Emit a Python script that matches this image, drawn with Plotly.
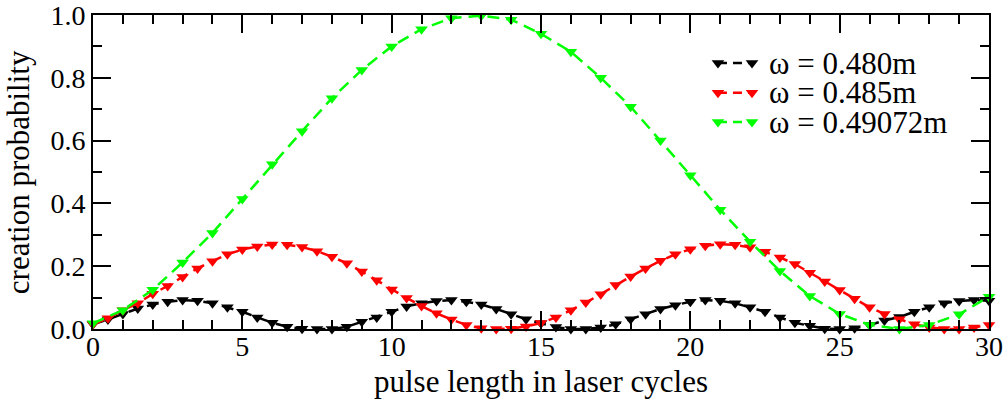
import plotly.graph_objects as go

# pulse lengths (laser cycles)
cycles_half = [i * 0.5 for i in range(61)]
cycles_full = list(range(31))

# creation probability for each carrier frequency
prob_480 = [
    0.015, 0.030, 0.048, 0.065, 0.078, 0.087, 0.092, 0.090, 0.082, 0.069,
    0.055, 0.037, 0.020, 0.007, 0.001, 0.000, 0.000, 0.007, 0.023, 0.037,
    0.055, 0.072, 0.082, 0.089, 0.092, 0.087, 0.078, 0.064, 0.047, 0.031,
    0.018, 0.006, 0.000, 0.000, 0.005, 0.015, 0.031, 0.047, 0.064, 0.076,
    0.087, 0.092, 0.090, 0.082, 0.069, 0.055, 0.037, 0.020, 0.010, 0.001,
    0.000, 0.002, 0.013, 0.027, 0.038, 0.055, 0.069, 0.082, 0.089, 0.092,
    0.090,
]
prob_485 = [
    0.015, 0.034, 0.060, 0.082, 0.112, 0.137, 0.166, 0.193, 0.216, 0.238,
    0.253, 0.263, 0.269, 0.268, 0.261, 0.248, 0.230, 0.209, 0.183, 0.155,
    0.126, 0.099, 0.073, 0.050, 0.030, 0.013, 0.002, 0.000, 0.001, 0.008,
    0.019, 0.037, 0.060, 0.084, 0.111, 0.140, 0.167, 0.193, 0.217, 0.238,
    0.254, 0.265, 0.270, 0.268, 0.260, 0.246, 0.228, 0.207, 0.179, 0.151,
    0.124, 0.096, 0.069, 0.048, 0.031, 0.015, 0.005, 0.000, 0.000, 0.005,
    0.013,
]
prob_49072 = [
    0.018, 0.060, 0.125, 0.212, 0.306, 0.414, 0.525, 0.630, 0.735, 0.825,
    0.900, 0.955, 0.990, 0.998, 0.985, 0.940, 0.883, 0.800, 0.708, 0.600,
    0.490, 0.380, 0.278, 0.185, 0.105, 0.048, 0.013, 0.000, 0.013, 0.047,
    0.103,
]

x_ticks = [0, 5, 10, 15, 20, 25, 30]
y_ticks = [0.0, 0.2, 0.4, 0.6, 0.8, 1.0]
y_tick_text = ["0.0", "0.2", "0.4", "0.6", "0.8", "1.0"]

labels = ["ω = 0.480m", "ω = 0.485m", "ω = 0.49072m"]
colors = ["#000000", "#ff0000", "#00ff00"]

FONT = "Liberation Serif, Times New Roman, serif"
DASH = "12px,7px"

fig = go.Figure()

series = [
    (cycles_half, prob_480),
    (cycles_half, prob_485),
    (cycles_full, prob_49072),
]
for (xs, ys), name, col in zip(series, labels, colors):
    fig.add_trace(go.Scatter(
        x=xs, y=ys, name=name, mode="lines+markers",
        line=dict(color=col, width=2.5, dash=DASH),
        marker=dict(symbol="triangle-down", size=11, color=col),
        cliponaxis=False, showlegend=False,
    ))

# legend drawn on an overlay axis spanning the plot area
leg_rows = [0.847, 0.752, 0.659]
for name, col, yr in zip(labels, colors, leg_rows):
    fig.add_trace(go.Scatter(
        x=[0.6975, 0.7355], y=[yr, yr], mode="lines+markers",
        xaxis="x2", yaxis="y2",
        line=dict(color=col, width=2.5, dash="9px,6px"),
        marker=dict(symbol="triangle-down", size=11, color=col),
        showlegend=False, hoverinfo="skip",
    ))
    fig.add_annotation(
        x=0.752, y=yr, xref="x2", yref="y2", text=name, showarrow=False,
        xanchor="left", yanchor="middle",
        font=dict(family=FONT, size=31, color="black"),
    )

axis_common = dict(
    showline=True, linecolor="black", linewidth=2, mirror="ticks",
    ticks="inside", ticklen=18, tickwidth=2, tickcolor="black",
    showgrid=False, zeroline=False, ticklabeloverflow="allow",
    automargin=False,
    tickfont=dict(family=FONT, size=28, color="black"),
)

fig.update_layout(
    width=1008, height=403,
    margin=dict(l=93, r=19, t=15, b=74, autoexpand=False),
    paper_bgcolor="white", plot_bgcolor="white",
    xaxis=dict(
        range=[0, 30], tickmode="array", tickvals=x_ticks,
        ticklabelstandoff=-9,
        minor=dict(dtick=1, tick0=0, ticklen=9, tickwidth=2, tickcolor="black", ticks="inside"),
        **axis_common,
    ),
    yaxis=dict(
        range=[0, 1], tickmode="array", tickvals=y_ticks, ticktext=y_tick_text,
        minor=dict(dtick=0.1, tick0=0, ticklen=9, tickwidth=2, tickcolor="black", ticks="inside"),
        **axis_common,
    ),
    xaxis2=dict(range=[0, 1], overlaying="x", visible=False),
    yaxis2=dict(range=[0, 1], overlaying="y", visible=False),
)

fig.add_annotation(
    x=0.5, y=-0.168, xref="paper", yref="paper", text="pulse length in laser cycles",
    showarrow=False, xanchor="center", yanchor="middle",
    font=dict(family=FONT, size=31, color="black"),
)
fig.add_annotation(
    x=-0.0835, y=0.5, xref="paper", yref="paper", text="creation probability",
    showarrow=False, textangle=-90, xanchor="center", yanchor="middle",
    font=dict(family=FONT, size=31, color="black"),
)

fig.write_html("out.html")
